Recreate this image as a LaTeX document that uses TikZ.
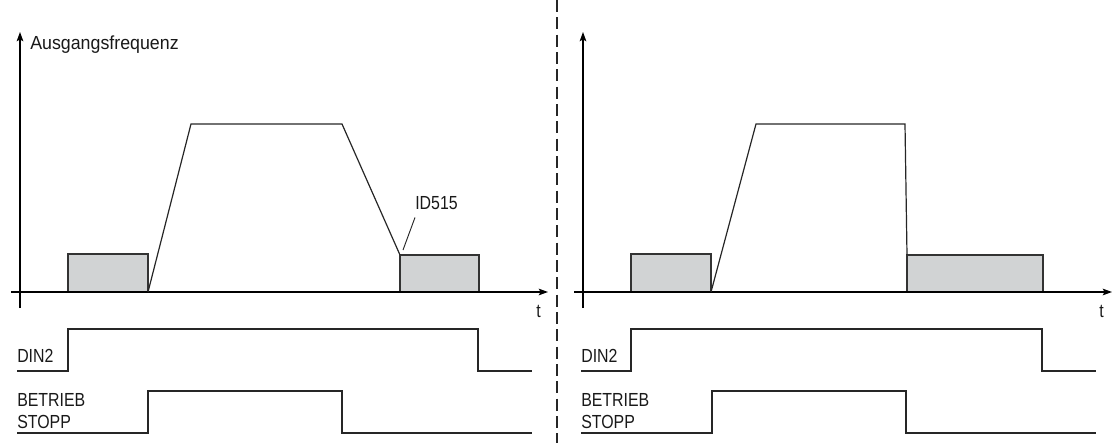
\documentclass[tikz,border=0pt]{standalone}
\usepackage{fontspec}
\setmainfont{Liberation Sans}[FakeStretch=0.84]
\newfontfamily\freqfont{Liberation Sans}[FakeStretch=0.94]
\usetikzlibrary{arrows.meta}

\definecolor{boxgray}{HTML}{D1D3D4}
\tikzset{
  axis/.style={line width=0.9pt,-{Stealth[length=7pt,width=5pt,inset=1.5pt]}},
  sig/.style={line width=0.9pt,black!85},
  level/.style={draw=black!80,line width=1pt,fill=boxgray},
  lbl/.style={inner sep=0pt,anchor=base west,text=black!90,font=\fontsize{14.2}{16}\selectfont},
}

\begin{document}
\begin{tikzpicture}[x=0.75pt,y=-0.75pt]
  \useasboundingbox (0,0) rectangle (1118,443);
  % left: with ramp down
  \draw[level] (68,254) rectangle (148,292);
  \draw[level] (400,255) rectangle (479,292);
  \draw[axis] (20,308) -- (20,32);
  \draw[axis] (11,292) -- (548,292);
  \draw[sig] (148,292) -- (191,124) -- (342,124) -- (400,255);
  \node[lbl] (freq) at (30,49) {\freqfont Ausgangsfrequenz};
  \node[lbl] (tL) at (536,317) {t};
  \node[lbl] (id) at (415,209) {ID515};
  \coordinate (dec) at (403,250);
  \draw[sig,line width=0.7pt] ([shift={(0,8)}]id.south west) -- (dec);
  \node[lbl] (dinL) at (17,362) {DIN2};
  \node[lbl] (runL) at (17,406) {BETRIEB};
  \node[lbl] (stopL) at (17,428) {STOPP};
  \draw[sig] (17,371) -- (68,371) -- (68,329) -- (478,329) -- (478,371) -- (532,371);
  \draw[sig] (17,433) -- (148,433) -- (148,391) -- (342,391) -- (342,433) -- (532,433);
  % divider
  \draw[line width=0.8pt,black!85,dash pattern=on 9pt off 4pt] (557,0) -- (557,443);
  % right: coasting
  \draw[level] (631,254) rectangle (711,292);
  \draw[level] (907,255) rectangle (1043,292);
  \draw[axis] (583,308) -- (583,32);
  \draw[axis] (574,292) -- (1112,292);
  \draw[sig] (711,292) -- (756,124) -- (905,124) -- (907,255);
  \node[lbl] (tR) at (1099,317) {t};
  \node[lbl] (dinR) at (581,362) {DIN2};
  \node[lbl] (runR) at (581,406) {BETRIEB};
  \node[lbl] (stopR) at (581,428) {STOPP};
  \draw[sig] (581,371) -- (631,371) -- (631,329) -- (1042,329) -- (1042,371) -- (1096,371);
  \draw[sig] (581,433) -- (712,433) -- (712,391) -- (906,391) -- (906,433) -- (1096,433);
\end{tikzpicture}
\end{document}
